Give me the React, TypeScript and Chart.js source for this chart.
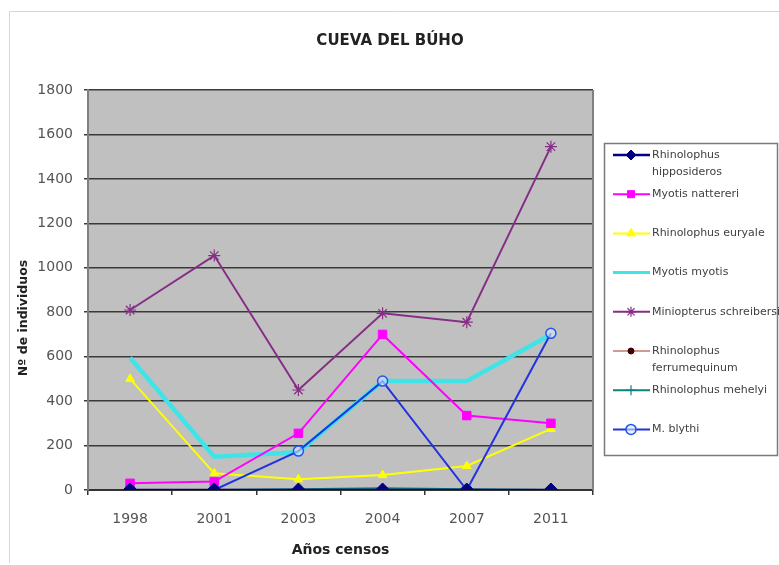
import React, { useEffect, useRef } from 'react';
import { Chart, registerables } from 'chart.js';
import { drawPoint } from 'chart.js/helpers';

Chart.register(...registerables);

const years = ['1998', '2001', '2003', '2004', '2007', '2011'];
const hipposideros = [0, 0, 0, 0, 0, 0];
const nattereri = [30, 38, 255, 700, 335, 300];
const euryale = [500, 75, 48, 67, 108, 275];
const myotis = [595, 150, 170, 490, 490, 700];
const schreibersii = [810, 1055, 450, 795, 755, 1545];
const ferrumequinum = [0, 0, 0, 0, 0, 0];
const mehelyi = [0, 0, 3, 8, 3, 0];
const blythi = [0, 0, 175, 490, 0, 705];

const yMin = 0;
const yMax = 1800;
const yStep = 200;

const titleText = 'CUEVA DEL BÚHO';
const yTitle = 'Nº de individuos';
const xTitle = 'Años censos';

const legendLabels: string[][] = [
  ['Rhinolophus', 'hipposideros'],
  ['Myotis nattereri'],
  ['Rhinolophus euryale'],
  ['Myotis myotis'],
  ['Miniopterus schreibersii'],
  ['Rhinolophus', 'ferrumequinum'],
  ['Rhinolophus mehelyi'],
  ['M. blythi'],
];

const FONT = '"DejaVu Sans", Verdana, sans-serif';

const decorPlugin = {
  id: 'decor',
  beforeDraw(chart: any) {
    const { ctx, chartArea } = chart;
    ctx.save();
    ctx.fillStyle = '#ffffff';
    ctx.fillRect(0, 0, chart.width, chart.height);
    ctx.strokeStyle = '#d6d6d6';
    ctx.lineWidth = 1;
    ctx.beginPath();
    ctx.moveTo(9.5, 563);
    ctx.lineTo(9.5, 11.5);
    ctx.lineTo(779, 11.5);
    ctx.stroke();
    ctx.fillStyle = '#C0C0C0';
    ctx.fillRect(chartArea.left, chartArea.top, chartArea.right - chartArea.left, chartArea.bottom - chartArea.top);
    ctx.restore();
  },
  beforeDatasetsDraw(chart: any) {
    const { ctx, chartArea } = chart;
    ctx.save();
    ctx.strokeStyle = '#808080';
    ctx.lineWidth = 2;
    ctx.beginPath();
    ctx.moveTo(chartArea.right, chartArea.top);
    ctx.lineTo(chartArea.right, chartArea.bottom);
    ctx.stroke();
    ctx.restore();
  },
  afterDraw(chart: any) {
    const { ctx } = chart;
    ctx.save();
    ctx.fillStyle = '#222222';
    ctx.font = 'bold 15px ' + FONT;
    ctx.textAlign = 'center';
    ctx.textBaseline = 'middle';
    ctx.fillText(titleText, 390, 41);

    ctx.save();
    ctx.translate(24, 318);
    ctx.rotate(-Math.PI / 2);
    ctx.font = 'bold 12.5px ' + FONT;
    ctx.fillText(yTitle, 0, 0);
    ctx.restore();

    ctx.strokeStyle = '#7a7a7a';
    ctx.lineWidth = 1.5;
    ctx.strokeRect(604.5, 143.5, 173, 312);
    chart.data.datasets.forEach((ds: any, i: number) => {
      const y = 155 + 39.2 * i;
      ctx.strokeStyle = ds.borderColor;
      ctx.lineWidth = Math.min(ds.borderWidth, 3);
      ctx.beginPath();
      ctx.moveTo(613, y);
      ctx.lineTo(650, y);
      ctx.stroke();
      if (ds.pointRadius > 0) {
        ctx.fillStyle = ds.pointBackgroundColor;
        ctx.strokeStyle = ds.pointBorderColor;
        ctx.lineWidth = ds.pointBorderWidth;
        drawPoint(ctx, {
          pointStyle: ds.pointStyle,
          radius: Math.min(ds.pointRadius, 5),
          rotation: 0,
          borderWidth: ds.pointBorderWidth,
        } as any, 631, y);
      }
      ctx.fillStyle = '#404040';
      ctx.font = '11px ' + FONT;
      ctx.textAlign = 'left';
      ctx.textBaseline = 'middle';
      legendLabels[i].forEach((t, j) => {
        ctx.fillText(t, 652, y + j * 17);
      });
    });
    ctx.restore();
  },
};

function line(label: string, data: number[], color: string, width: number, style: any, radius: number, fill: string, border: string, bw: number, order: number) {
  return {
    label,
    data,
    borderColor: color,
    backgroundColor: color,
    borderWidth: width,
    pointStyle: style,
    pointRadius: radius,
    pointBackgroundColor: fill,
    pointBorderColor: border,
    pointBorderWidth: bw,
    tension: 0,
    order,
  };
}

export default function App() {
  const ref = useRef<HTMLCanvasElement>(null);
  useEffect(() => {
    document.body.style.margin = '0';
    const canvas = ref.current!;
    const chart = new Chart(canvas, {
      type: 'line',
      data: {
        labels: years,
        datasets: [
          line('Rhinolophus hipposideros', hipposideros, '#000080', 2.5, 'rectRot', 7, '#000080', '#000080', 1, 0),
          line('Myotis nattereri', nattereri, '#FF00FF', 2, 'rect', 6, '#FF00FF', '#FF00FF', 1, 3),
          line('Rhinolophus euryale', euryale, '#FFFF00', 2, 'triangle', 5, '#FFFF00', '#FFFF00', 1, 4),
          line('Myotis myotis', myotis, '#3EE4E8', 4.5, 'cross', 0, '#3EE4E8', '#3EE4E8', 1, 7),
          line('Miniopterus schreibersii', schreibersii, '#862E86', 2, 'star', 6, '#862E86', '#862E86', 1.2, 2),
          line('Rhinolophus ferrumequinum', ferrumequinum, '#C07868', 1.5, 'circle', 3, '#400000', '#400000', 1, 6),
          line('Rhinolophus mehelyi', mehelyi, '#108080', 2, 'cross', 5, '#108080', '#108080', 1.2, 5),
          line('M. blythi', blythi, '#2233DD', 2, 'circle', 5, 'rgba(220,230,255,0.6)', '#2255EE', 1.5, 1),
        ],
      },
      options: {
        responsive: false,
        maintainAspectRatio: false,
        animation: false,
        layout: { padding: { top: 90, left: 0, right: 186, bottom: 0 } },
        plugins: {
          legend: { display: false },
          tooltip: { enabled: false },
          title: { display: false },
        },
        scales: {
          x: {
            offset: true,
            afterFit: (s: any) => { s.height = 75; },
            grid: { drawOnChartArea: false, drawTicks: true, tickLength: 5, offset: true, color: '#333333', lineWidth: 1.5 },
            border: { display: true, color: '#333333', width: 2 },
            ticks: { color: '#555555', font: { size: 14, family: FONT }, padding: 16 },
            title: { display: true, text: xTitle, color: '#222222', font: { size: 14, weight: 'bold', family: FONT }, padding: { top: 0, bottom: 6.6 } },
          },
          y: {
            min: yMin,
            max: yMax,
            afterFit: (s: any) => { s.width = 88; },
            grid: { color: '#3a3a3a', lineWidth: 1.5, tickLength: 4, drawTicks: true },
            border: { display: true, color: '#808080', width: 2 },
            ticks: { stepSize: yStep, color: '#555555', font: { size: 14, family: FONT }, padding: 11, callback: (v: any) => String(v) },
            title: { display: false },
          },
        },
      },
      plugins: [decorPlugin],
    } as any);
    return () => chart.destroy();
  }, []);
  return <canvas ref={ref} width={779} height={565} style={{ display: 'block' }} />;
}
